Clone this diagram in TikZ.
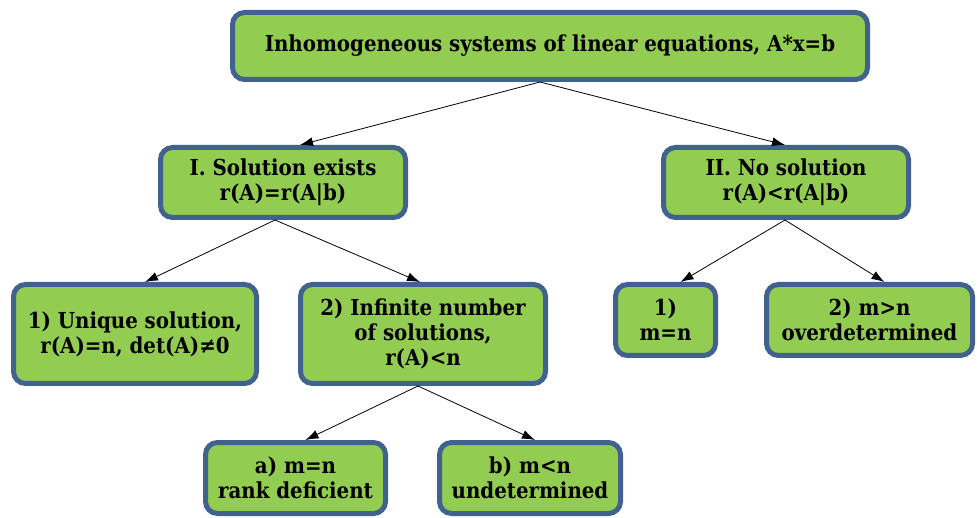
\documentclass[tikz,border=0pt]{standalone}
\usepackage{fontspec}
\setmainfont{DejaVu Serif Condensed}
\usetikzlibrary{arrows.meta}
\definecolor{boxfill}{RGB}{146,204,80}
\definecolor{boxline}{RGB}{65,97,143}
\tikzset{
  box/.style={draw=boxline, fill=boxfill, line width=5pt, rounded corners=12pt,
    align=center, inner sep=0pt, font=\bfseries\fontsize{22}{25}\selectfont},
  link/.style={draw=black, line width=0.8pt, -{Latex[length=13pt,width=9pt]}}
}
\begin{document}
\begin{tikzpicture}[x=1pt,y=-1pt]
\useasboundingbox (0,0) rectangle (977,518);
\node[box, minimum width=635pt, minimum height=67pt] (top) at (550,46) {Inhomogeneous systems of linear equations, A*x=b};
\node[box, minimum width=245pt, minimum height=70pt] (sol) at (283,182.5) {I. Solution exists\\r(A)=r(A|b)};
\node[box, minimum width=245pt, minimum height=70pt] (nosol) at (786,182.5) {II. No solution\\r(A)<r(A|b)};
\node[box, minimum width=243pt, minimum height=99pt] (uniq) at (135,334) {1) Unique solution,\\r(A)=n, det(A)≠0};
\node[box, minimum width=245pt, minimum height=99pt] (inf) at (423,334) {2) Infinite number\\of solutions,\\r(A)<n};
\node[box, minimum width=100pt, minimum height=71pt] (mn) at (665.5,320) {1)\\m=n};
\node[box, minimum width=206pt, minimum height=71pt] (over) at (869.5,320) {2) m>n\\overdetermined};
\node[box, minimum width=180pt, minimum height=71pt] (rank) at (295.5,478) {a) m=n\\rank deficient};
\node[box, minimum width=181pt, minimum height=71pt] (under) at (530,478) {b) m<n\\undetermined};
\draw[link] ([xshift=-10pt]top.south) -- ([xshift=17pt]sol.north);
\draw[link] ([xshift=-10pt]top.south) -- ([xshift=-1pt]nosol.north);
\draw[link] ([xshift=-8pt]sol.south) -- ([xshift=10pt]uniq.north);
\draw[link] ([xshift=-8pt]sol.south) -- ([xshift=-3pt]inf.north);
\draw[link] ([xshift=-1pt]nosol.south) -- ([xshift=15pt]mn.north);
\draw[link] ([xshift=-1pt]nosol.south) -- ([xshift=15pt]over.north);
\draw[link] ([xshift=-5pt]inf.south) -- ([xshift=10pt]rank.north);
\draw[link] ([xshift=-5pt]inf.south) -- ([xshift=5pt]under.north);
\end{tikzpicture}
\end{document}
